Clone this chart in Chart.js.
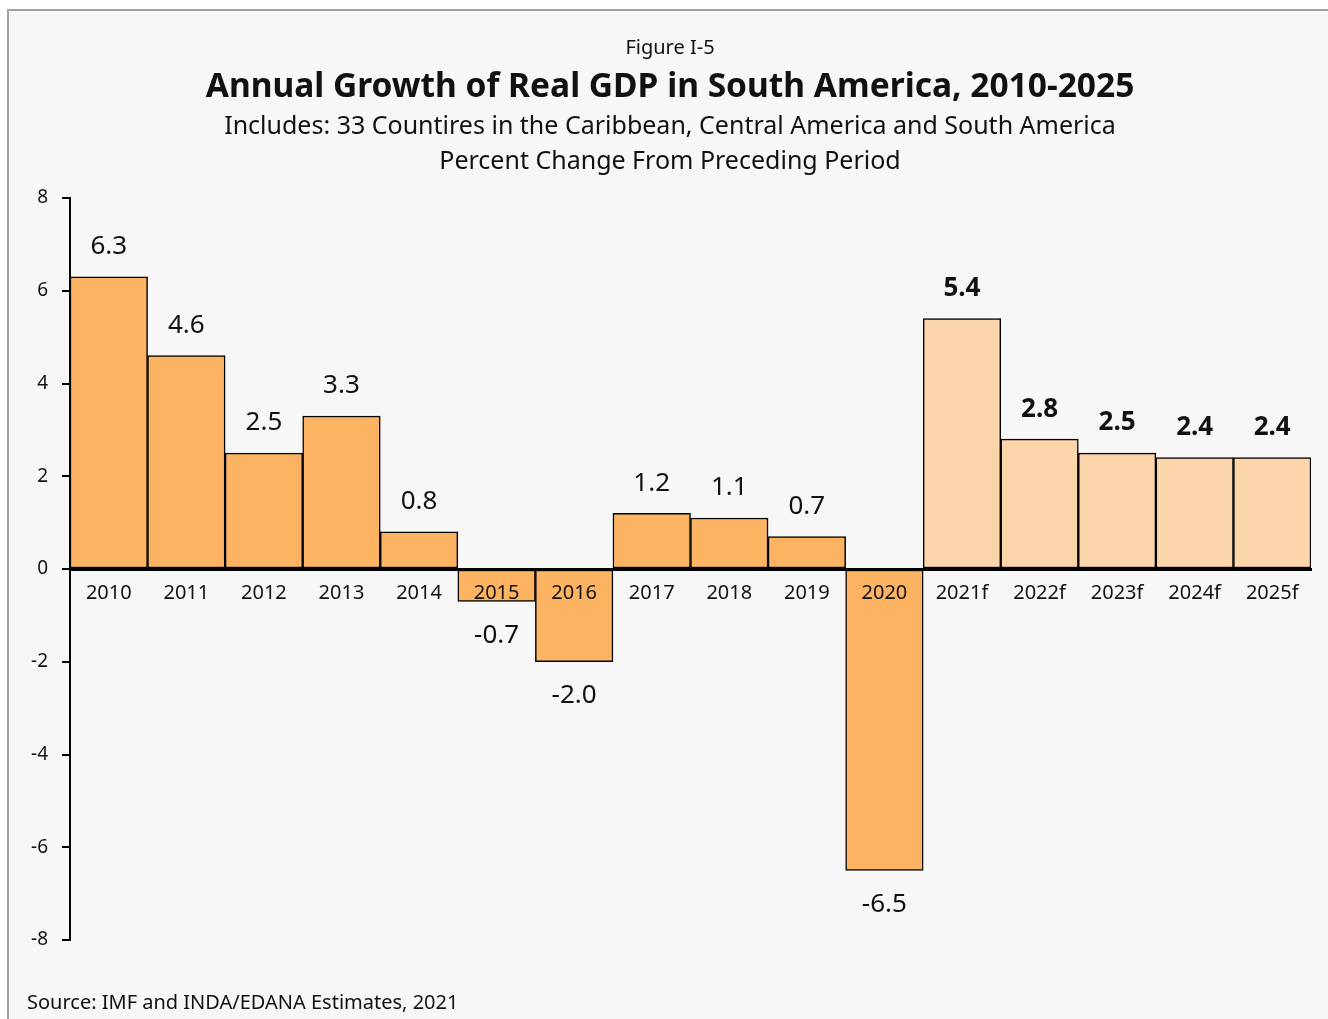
<!DOCTYPE html>
<html>
<head>
<meta charset="utf-8">
<title>Annual Growth of Real GDP in South America, 2010-2025</title>
<script src="https://cdn.jsdelivr.net/npm/chart.js@4/dist/chart.umd.min.js"></script>
<style>
  html, body { margin: 0; padding: 0; background: #fff; overflow: hidden; }
  canvas { display: block; }
</style>
</head>
<body>
<canvas id="gdp" width="1328" height="1019"></canvas>
<script>
// Years, growth (%) and which ones are forecasts
const years = ['2010', '2011', '2012', '2013', '2014', '2015', '2016', '2017',
  '2018', '2019', '2020', '2021f', '2022f', '2023f', '2024f', '2025f'];
const growth = [6.3, 4.6, 2.5, 3.3, 0.8, -0.7, -2.0, 1.2, 1.1, 0.7, -6.5,
  5.4, 2.8, 2.5, 2.4, 2.4];
const isForecast = [false, false, false, false, false, false, false, false,
  false, false, false, true, true, true, true, true];
const yTicks = [-8, -6, -4, -2, 0, 2, 4, 6, 8];

const COLORS = {
  page: '#ffffff',
  panel: '#f7f7f7',
  frame: '#a3a3a3',
  actual: '#fdb462',
  forecast: '#fcd5aa',
  ink: '#111111',
};
const FONT = '"Noto Sans", "Open Sans", sans-serif';

// Panel background with grey frame, headings and footnote
const framePlugin = {
  id: 'frame',
  beforeDraw(chart) {
    const { ctx, width, height } = chart;
    ctx.save();
    ctx.fillStyle = COLORS.page;
    ctx.fillRect(0, 0, width, height);
    ctx.fillStyle = COLORS.panel;
    ctx.fillRect(9, 11, width, height);
    ctx.strokeStyle = COLORS.frame;
    ctx.lineWidth = 2;
    ctx.beginPath();
    ctx.moveTo(8, height + 5);
    ctx.lineTo(8, 10);
    ctx.lineTo(width + 5, 10);
    ctx.stroke();
    ctx.restore();
  },
  afterDraw(chart) {
    const { ctx } = chart;
    const cx = 670;
    ctx.save();
    ctx.fillStyle = COLORS.ink;
    ctx.textAlign = 'center';
    ctx.textBaseline = 'middle';
    ctx.font = `20px ${FONT}`;
    ctx.fillText('Figure I-5', cx, 48);
    ctx.font = `bold 33.5px ${FONT}`;
    ctx.fillText('Annual Growth of Real GDP in South America, 2010-2025', cx, 87);
    ctx.font = `25px ${FONT}`;
    ctx.fillText('Includes: 33 Countires in the Caribbean, Central America and South America', cx, 127);
    ctx.fillText('Percent Change From Preceding Period', cx, 162);
    ctx.textAlign = 'left';
    ctx.font = `20px ${FONT}`;
    ctx.fillText('Source: IMF and INDA/EDANA Estimates, 2021', 27, 1003);
    ctx.restore();
  },
};

// Value above positive bars, below negative ones; forecasts in bold
const valueLabels = {
  id: 'valueLabels',
  afterDatasetsDraw(chart) {
    const { ctx } = chart;
    const meta = chart.getDatasetMeta(0);
    ctx.save();
    ctx.fillStyle = COLORS.ink;
    ctx.textAlign = 'center';
    ctx.textBaseline = 'middle';
    meta.data.forEach((bar, i) => {
      const v = growth[i];
      ctx.font = `${isForecast[i] ? 'bold ' : ''}26px ${FONT}`;
      const y = v >= 0 ? bar.y - 30 : bar.y + 34;
      ctx.fillText(v.toFixed(1), bar.x, y);
    });
    ctx.restore();
  },
};

new Chart(document.getElementById('gdp'), {
  type: 'bar',
  data: {
    labels: years,
    datasets: [{
      data: growth,
      backgroundColor: isForecast.map(f => (f ? COLORS.forecast : COLORS.actual)),
      borderColor: '#000',
      borderWidth: 1.5,
      borderSkipped: false,
      categoryPercentage: 1,
      barPercentage: 1,
    }],
  },
  options: {
    responsive: false,
    animation: false,
    events: [],
    layout: { padding: { left: 8, right: 17, top: 198, bottom: 79 } },
    plugins: {
      legend: { display: false },
      tooltip: { enabled: false },
    },
    scales: {
      x: {
        position: { y: 0 },
        grid: { display: false },
        border: { display: true, color: '#000', width: 3, z: 1 },
        ticks: {
          z: 1,
          color: COLORS.ink,
          font: { family: FONT, size: 20 },
          padding: 4,
          maxRotation: 0,
          autoSkip: false,
        },
        afterFit(scale) { scale.height = 0; },
      },
      y: {
        min: -8,
        max: 8,
        afterBuildTicks(scale) { scale.ticks = yTicks.map(v => ({ value: v })); },
        afterFit(scale) { scale.width = 62; },
        grid: {
          display: true,
          drawOnChartArea: false,
          drawTicks: true,
          tickLength: 8,
          color: '#000',
          lineWidth: 2,
        },
        border: { display: true, color: '#000', width: 2 },
        ticks: {
          color: COLORS.ink,
          font: { family: FONT, size: 19 },
          padding: 14,
        },
      },
    },
  },
  plugins: [framePlugin, valueLabels],
});
</script>
</body>
</html>
